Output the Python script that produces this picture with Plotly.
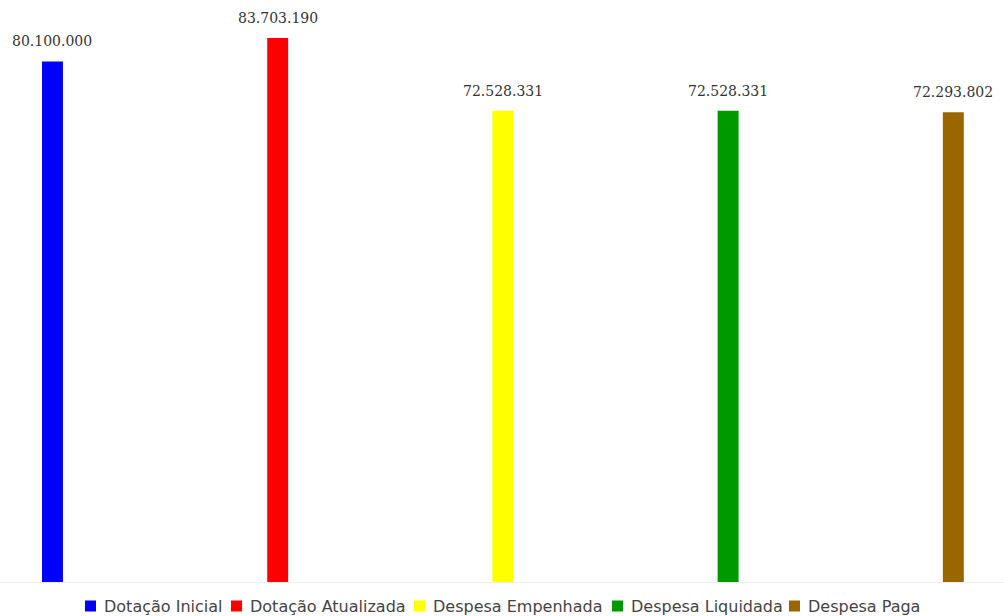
import plotly.graph_objects as go

# Budget execution figures (R$)
categories = ["Dotação Inicial", "Dotação Atualizada", "Despesa Empenhada",
              "Despesa Liquidada", "Despesa Paga"]
values = [80100000, 83703190, 72528331, 72528331, 72293802]
colors = ["#0000ff", "#ff0000", "#ffff00", "#009900", "#996600"]

FIG_W, FIG_H = 1004, 616
PLOT_H = 582  # height of the plotting area (bottom margin holds the key)

fig = go.Figure()
for name, val, col in zip(categories, values, colors):
    fig.add_trace(go.Bar(
        x=[name], y=[val], name=name, showlegend=False,
        marker=dict(color=col, line=dict(width=0)),
        width=0.093,
        hovertemplate="%{x}: %{y:,.0f}<extra></extra>",
    ))
    # value label above each bar
    fig.add_annotation(
        x=name, y=val, text=f"{val:,.0f}".replace(",", "."),
        showarrow=False, yanchor="bottom", yshift=10,
        font=dict(family="DejaVu Serif", size=14, color="#333333"),
    )

# Compact key below the axis: swatch + label per series
key_swatch_px = [85, 231, 414, 612, 789]
key_y_px = 606
for name, col, sx in zip(categories, colors, key_swatch_px):
    y0 = (PLOT_H - (key_y_px + 5.5)) / PLOT_H
    y1 = (PLOT_H - (key_y_px - 5.5)) / PLOT_H
    fig.add_shape(type="rect", xref="paper", yref="paper",
                  x0=sx / FIG_W, x1=(sx + 11) / FIG_W, y0=y0, y1=y1,
                  fillcolor=col, line=dict(width=0))
    fig.add_annotation(xref="paper", yref="paper",
                       x=(sx + 17) / FIG_W, y=(PLOT_H - key_y_px) / PLOT_H,
                       xanchor="left", yanchor="middle", showarrow=False,
                       text=name,
                       font=dict(family="DejaVu Sans", size=16, color="#444444"))

fig.update_layout(
    width=FIG_W, height=FIG_H,
    margin=dict(l=0, r=0, t=0, b=FIG_H - PLOT_H),
    barmode="overlay",
    separators=",.",
    paper_bgcolor="white", plot_bgcolor="white",
    showlegend=False,
    xaxis=dict(
        range=[-0.233, 4.225], showticklabels=False, showgrid=False,
        zeroline=False, showline=True, linecolor="#eeeeee", linewidth=1,
        ticks="", fixedrange=True,
    ),
    yaxis=dict(
        range=[0, 89.55e6], visible=False, showgrid=False, zeroline=False,
        fixedrange=True,
    ),
)

fig.write_html("out.html")
